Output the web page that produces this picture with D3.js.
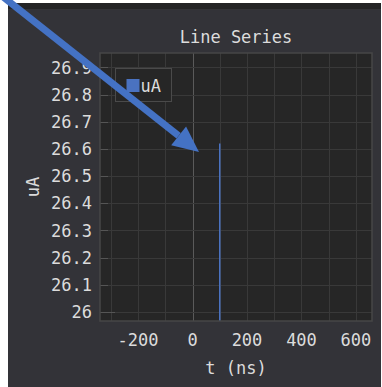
<!DOCTYPE html>
<html>
<head>
<meta charset="utf-8">
<script src="https://cdn.jsdelivr.net/npm/d3@7"></script>
<style>
  html, body { margin: 0; padding: 0; background: #ffffff; }
  svg { display: block; }
  text { font-family: "DejaVu Sans Mono", "Liberation Mono", monospace; fill: #dcdcdc; }
</style>
</head>
<body>
<svg id="chart" width="382" height="387"></svg>
<script>
// Series: a single step in current at t = 100 ns
const tValues = [100, 100];
const uAValues = [0, 26.62];
const seriesName = "uA";

// Axis ticks
const xTickValues = [-200, 0, 200, 400, 600];
const xGridValues = [-300, -200, -100, 0, 100, 200, 300, 400, 500, 600];
const yTickValues = [26.0, 26.1, 26.2, 26.3, 26.4, 26.5, 26.6, 26.7, 26.8, 26.9];

const titleText = "Line Series";
const xLabel = "t (ns)";
const yLabel = "uA";

const svg = d3.select("#chart");
const W = 382, H = 387;
const plot = { left: 100, top: 53, right: 372, bottom: 321 };

// Panel
svg.append("rect").attr("x", 8).attr("y", 3).attr("width", 373).attr("height", H - 3).attr("fill", "#333338");
svg.append("rect").attr("x", 8).attr("y", 3).attr("width", 373).attr("height", 6).attr("fill", "#242426");

const x = d3.scaleLinear().domain([-339.5, 658.8]).range([plot.left, plot.right]);
const y = d3.scaleLinear().domain([25.967, 26.953]).range([plot.bottom, plot.top]);

// Plot background
svg.append("rect")
  .attr("x", plot.left).attr("y", plot.top)
  .attr("width", plot.right - plot.left).attr("height", plot.bottom - plot.top)
  .attr("fill", "#262626");

svg.append("clipPath").attr("id", "plotClip")
  .append("rect")
  .attr("x", plot.left).attr("y", plot.top)
  .attr("width", plot.right - plot.left).attr("height", plot.bottom - plot.top);

// Grid
const grid = svg.append("g").attr("clip-path", "url(#plotClip)");
grid.selectAll("line.vg").data(xGridValues).join("line")
  .attr("class", "vg")
  .attr("x1", d => Math.round(x(d)) + 0.5).attr("x2", d => Math.round(x(d)) + 0.5)
  .attr("y1", plot.top).attr("y2", plot.bottom)
  .attr("stroke", d => d === 0 ? "#5a5a5a" : "#393939")
  .attr("stroke-width", 1);
grid.selectAll("line.hg").data(yTickValues).join("line")
  .attr("class", "hg")
  .attr("x1", plot.left).attr("x2", plot.right)
  .attr("y1", d => Math.round(y(d)) + 0.5).attr("y2", d => Math.round(y(d)) + 0.5)
  .attr("stroke", "#393939")
  .attr("stroke-width", 1);

// Y tick marks drawn inside the plot edge
grid.selectAll("line.yt").data(yTickValues).join("line")
  .attr("class", "yt")
  .attr("x1", plot.left).attr("x2", (d, i) => plot.left + (i === 0 ? 15 : 8))
  .attr("y1", d => Math.round(y(d)) + 0.5).attr("y2", d => Math.round(y(d)) + 0.5)
  .attr("stroke", "#555555")
  .attr("stroke-width", 1);

// Series line
const line = d3.line().x(d => x(d[0])).y(d => y(d[1]));
grid.append("path")
  .datum(tValues.map((t, i) => [t, uAValues[i]]))
  .attr("d", line)
  .attr("fill", "none")
  .attr("stroke", "#4a72c0")
  .attr("stroke-width", 1.5);

// Plot border
svg.append("rect")
  .attr("x", plot.left).attr("y", plot.top)
  .attr("width", plot.right - plot.left).attr("height", plot.bottom - plot.top)
  .attr("fill", "none")
  .attr("stroke", "#474747")
  .attr("stroke-width", 1.5);

// Axis labels
svg.selectAll("text.ytl").data(yTickValues).join("text")
  .attr("class", "ytl")
  .attr("x", 92).attr("y", d => y(d))
  .attr("dy", "0.36em")
  .attr("text-anchor", "end")
  .attr("font-size", 17)
  .text(d => d3.format("~g")(d));

svg.selectAll("text.xtl").data(xTickValues).join("text")
  .attr("class", "xtl")
  .attr("x", d => x(d)).attr("y", 340)
  .attr("dy", "0.36em")
  .attr("text-anchor", "middle")
  .attr("font-size", 17)
  .text(d => d < 0 ? "-" + Math.abs(d) : String(d));

svg.append("text")
  .attr("x", (plot.left + plot.right) / 2).attr("y", 368)
  .attr("dy", "0.36em").attr("text-anchor", "middle")
  .attr("font-size", 17)
  .text(xLabel);

svg.append("text")
  .attr("transform", `translate(33,${(plot.top + plot.bottom) / 2}) rotate(-90)`)
  .attr("dy", "0.36em").attr("text-anchor", "middle")
  .attr("font-size", 17)
  .text(yLabel);

svg.append("text")
  .attr("x", (plot.left + plot.right) / 2).attr("y", 37)
  .attr("dy", "0.36em").attr("text-anchor", "middle")
  .attr("font-size", 17)
  .text(titleText);

// Legend
const legend = svg.append("g").attr("transform", "translate(115.5,68.5)");
legend.append("rect").attr("width", 56).attr("height", 33)
  .attr("fill", "#262626").attr("stroke", "#4a4a4a").attr("stroke-width", 1);
legend.append("rect").attr("x", 11).attr("y", 10.5).attr("width", 13).attr("height", 13)
  .attr("fill", "#4a72c0");
legend.append("text").attr("x", 25).attr("y", 17.5).attr("dy", "0.36em")
  .attr("font-size", 17).text(seriesName);

// Pointer arrow overlay
const arrowColor = "#4472c4";
const tail = [2, -4], tip = [199, 152];
const ang = Math.atan2(tip[1] - tail[1], tip[0] - tail[0]);
const headLen = 26, headHalf = 12;
const base = [tip[0] - headLen * Math.cos(ang), tip[1] - headLen * Math.sin(ang)];
svg.append("line")
  .attr("x1", tail[0]).attr("y1", tail[1])
  .attr("x2", base[0]).attr("y2", base[1])
  .attr("stroke", arrowColor).attr("stroke-width", 7);
svg.append("path")
  .attr("d", d3.line()([
    tip,
    [base[0] + headHalf * Math.sin(ang), base[1] - headHalf * Math.cos(ang)],
    [base[0] - headHalf * Math.sin(ang), base[1] + headHalf * Math.cos(ang)]
  ]) + "Z")
  .attr("fill", arrowColor);
</script>
</body>
</html>
